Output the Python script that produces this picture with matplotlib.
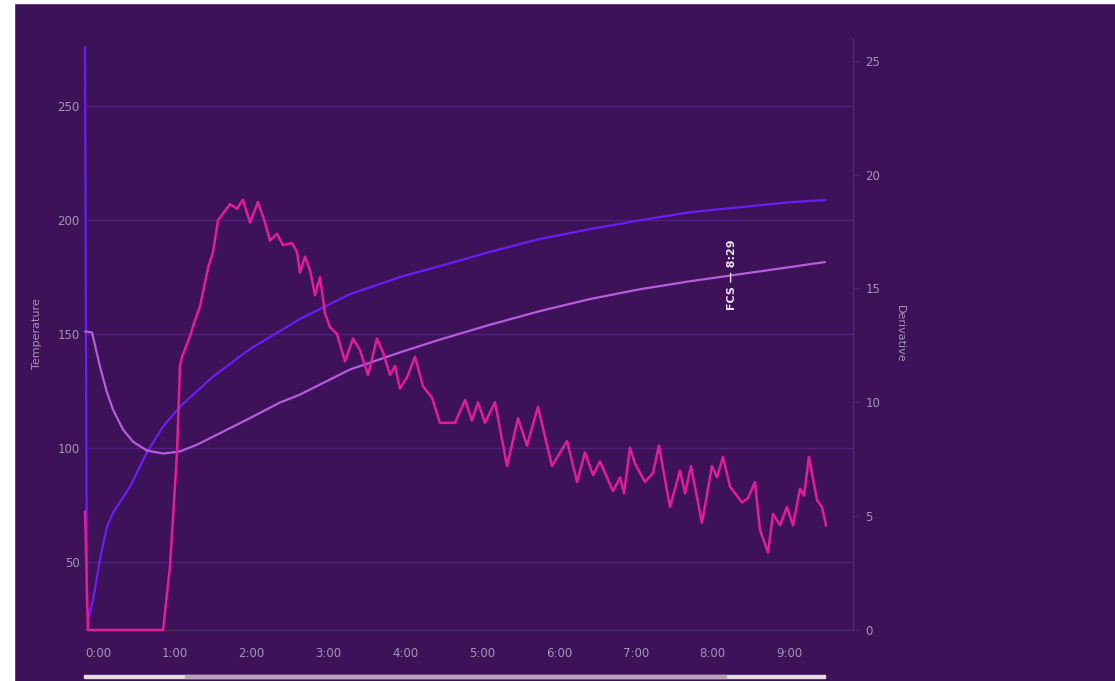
import numpy as np
import matplotlib
matplotlib.use("Agg")
import matplotlib.pyplot as plt
from matplotlib.patches import Rectangle

# ---------------- data (time in seconds) ----------------
et_time = [0, 1.5, 3.1, 6.3, 11.7, 17.2, 21.9, 35.2, 48.4, 60.9, 74.2, 100, 128.9, 168,
           207, 246, 277, 316, 355, 395, 434, 473, 512, 551, 578]
et_temp = [276, 30, 25.4, 33.3, 51, 65.4, 71.5, 83, 98, 109.3, 118.1, 131.3, 143.4, 156.6,
           167.5, 175, 179.8, 186.0, 191.7, 196.1, 200, 203.5, 205.7, 207.9, 208.8]

bt_time = [0, 5.5, 11.7, 17.2, 21.9, 29.7, 37.5, 48.4, 60.9, 74.2, 87.5, 100, 126.6, 152.3,
           168, 207, 246, 277, 316, 355, 395, 434, 473, 512, 551, 578]
bt_temp = [151.1, 150.7, 135.7, 124.3, 116.8, 108, 102.7, 98.8, 97.5, 98.4, 101.4, 104.9, 112.4,
           119.9, 123.4, 134.4, 141.9, 147.5, 154.0, 160.0, 165.4, 169.7, 173.2, 176.3, 179.4, 181.6]

ror_time = [0, 2.3, 61, 66.4, 71.9, 74.2, 75.8, 82.0, 85.9, 89.8, 96.1, 100, 103.9, 113.3, 118.8,
            123.4, 128.9, 135.2, 140.6, 144.5, 150, 154.7, 161.7, 165.6, 168, 171.9, 175.8, 179.7,
            183.6, 187.5, 191.4, 196.9, 203.1, 209.4, 214.8, 221.1, 228.1, 232.8, 238.3, 242.2,
            246.1, 251.6, 257.8, 264.1, 271.1, 277.3, 289.1, 296.9, 302.3, 307, 312.5, 320.3,
            329.7, 338.3, 345.3, 353.9, 364.8, 376.6, 384.4, 390.6, 396.9, 402.3, 412.5, 418,
            421.1, 425.8, 429.7, 437.5, 443.8, 448.4, 457, 464.8, 468.8, 473.4, 482, 489.8,
            493.8, 498.4, 503.9, 513.3, 518, 523.4, 527.3, 533.6, 537.5, 543, 548.4, 553.1,
            558.6, 561.7, 565.6, 571.9, 575.8, 578.9]
ror_value = [5.2, 0, 0, 2.8, 7.8, 11.6, 12.0, 12.9, 13.6, 14.2, 15.9, 16.6, 18.0, 18.7, 18.5,
             18.9, 17.9, 18.8, 17.9, 17.1, 17.4, 16.9, 17.0, 16.6, 15.7, 16.4, 15.8, 14.7,
             15.5, 13.9, 13.3, 13.0, 11.8, 12.8, 12.3, 11.2, 12.8, 12.2, 11.2, 11.6,
             10.6, 11.1, 12.0, 10.7, 10.2, 9.1, 9.1, 10.1, 9.2, 10.0, 9.1, 10.0,
             7.2, 9.3, 8.1, 9.8, 7.2, 8.3, 6.5, 7.8, 6.8, 7.4, 6.1, 6.7,
             6.0, 8.0, 7.3, 6.5, 6.9, 8.1, 5.4, 7.0, 6.0, 7.2, 4.7, 7.2,
             6.7, 7.6, 6.3, 5.6, 5.8, 6.5, 4.4, 3.4, 5.1, 4.6, 5.4, 4.6,
             6.2, 5.9, 7.6, 5.7, 5.4, 4.6]

fcs_seconds = 8 * 60 + 29
fcs_label = "FCS — 8:29"

temp_ticks = [50, 100, 150, 200, 250]
deriv_ticks = [0, 5, 10, 15, 20, 25]
time_ticks = list(range(10))
time_labels = [f"{m}:00" for m in time_ticks]

# ---------------- style ----------------
BG = "#3d1259"
GRID = "#51207a"
AXLINE = "#4a3560"
TICKTXT = "#a893b8"
C_ET = "#6c1ef2"
C_BT = "#b65cdc"
C_ROR = "#e31c9c"

W, H = 1115, 681
fig = plt.figure(figsize=(W / 100, H / 100), dpi=100, facecolor=BG)

L, R, B, T = 85, 853, 630, 38
ax = fig.add_axes([L / W, 1 - B / H, (R - L) / W, (B - T) / H])
ax.set_facecolor(BG)
ax2 = ax.twinx()

et_t = np.array(et_time) / 60
bt_t = np.array(bt_time) / 60
ror_t = np.array(ror_time) / 60

ax.plot(et_t, et_temp, color=C_ET, lw=1.6, solid_capstyle="round", zorder=3, clip_on=False)
ax.plot(bt_t, bt_temp, color=C_BT, lw=1.6, solid_capstyle="round", zorder=4, clip_on=False)
ax2.plot(ror_t, ror_value, color=C_ROR, lw=1.8, solid_joinstyle="round", zorder=5, clip_on=False)

ax.set_xlim(0, 10)
ax.set_ylim(20, 280)
ax2.set_ylim(0, 26)

ax.set_yticks(temp_ticks)
ax.set_yticklabels([str(v) for v in temp_ticks])
ax.yaxis.grid(True, color=GRID, lw=1)
ax.set_axisbelow(True)
ax.tick_params(axis="y", length=0, pad=4, labelsize=8.5, labelcolor=TICKTXT)

ax.set_xticks(time_ticks)
ax.set_xticklabels(time_labels)
ax.tick_params(axis="x", length=0, pad=12, labelsize=8.5, labelcolor=TICKTXT)
for lab in ax.get_xticklabels():
    lab.set_ha("left")

ax2.set_yticks(deriv_ticks)
ax2.tick_params(axis="y", length=4, width=1, color=GRID, pad=5, labelsize=8.5, labelcolor=TICKTXT)

for a in (ax, ax2):
    for s in ("top", "left", "right", "bottom"):
        a.spines[s].set_visible(False)
ax2.spines["right"].set_visible(True)
ax2.spines["right"].set_color(AXLINE)
ax2.spines["bottom"].set_visible(True)
ax2.spines["bottom"].set_color(AXLINE)

ax.set_ylabel("Temperature", color=TICKTXT, fontsize=8)
ax.yaxis.set_label_coords(-0.0625, 0.5)
ax.yaxis.label.set_va("center")
ax2.set_ylabel("Derivative", color=TICKTXT, fontsize=8, rotation=270)
ax2.yaxis.set_label_coords(1.061, 0.5)
ax2.yaxis.label.set_va("center")
ax2.yaxis.label.set_ha("center")

fcs_t = fcs_seconds / 60
fcs_y = np.interp(fcs_seconds, bt_time, bt_temp)
ax.annotate(fcs_label, xy=(fcs_t, fcs_y), xytext=(-3, 0), textcoords="offset points",
            rotation=90, ha="center", va="center", fontsize=8, fontweight="bold",
            color="#ece6f2", zorder=6)

# page chrome: white margins and bottom scrollbar
fig.add_artist(Rectangle((0, 0), 14 / W, 1, transform=fig.transFigure, color="white", zorder=10))
fig.add_artist(Rectangle((0, 1 - 3 / H), 1, 3 / H, transform=fig.transFigure, color="white", zorder=10))
fig.add_artist(Rectangle((84 / W, 1 - 678 / H), (825 - 84) / W, 3 / H, transform=fig.transFigure,
                         color="#e6dce6", zorder=10))
fig.add_artist(Rectangle((185 / W, 1 - 678 / H), (726 - 185) / W, 3 / H, transform=fig.transFigure,
                         color="#b9a2ba", zorder=11))

fig.savefig("out.png", dpi=100, facecolor=BG)
